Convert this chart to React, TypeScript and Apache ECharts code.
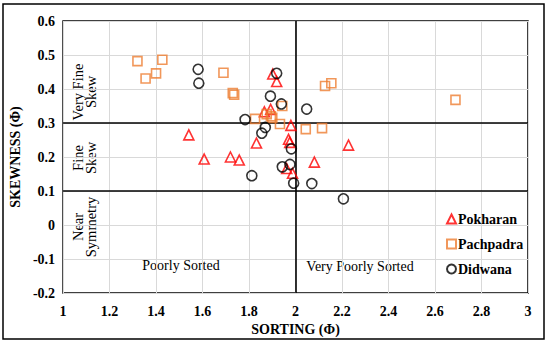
import React, { useEffect, useRef } from "react";
import * as echarts from "echarts";

const pokharan: [number, number][] = [
  [1.541, 0.265], [1.607, 0.194], [1.72, 0.2], [1.758, 0.191], [1.832, 0.241],
  [1.866, 0.333], [1.893, 0.34], [1.902, 0.444], [1.919, 0.422], [1.98, 0.293],
  [1.97, 0.252], [1.975, 0.243], [1.962, 0.166], [1.987, 0.152], [2.081, 0.185],
  [2.228, 0.235],
];
const pachpadra: [number, number][] = [
  [1.32, 0.482], [1.355, 0.431], [1.4, 0.446], [1.427, 0.486], [1.69, 0.448],
  [1.73, 0.388], [1.736, 0.383], [1.826, 0.312], [1.876, 0.326], [1.894, 0.32],
  [1.9, 0.315], [1.933, 0.297], [1.943, 0.35], [2.044, 0.282], [2.114, 0.285],
  [2.127, 0.409], [2.154, 0.417], [2.688, 0.368],
];
const didwana: [number, number][] = [
  [1.581, 0.458], [1.584, 0.417], [1.783, 0.31], [1.812, 0.145], [1.855, 0.27],
  [1.87, 0.287], [1.892, 0.379], [1.919, 0.446], [1.939, 0.356], [2.048, 0.341],
  [1.982, 0.224], [1.943, 0.171], [1.976, 0.178], [1.992, 0.123], [2.07, 0.122],
  [2.206, 0.077],
];
const xBoundaries = [2];
const yBoundaries = [0.3, 0.1];

const serif = "Liberation Serif";

export default function App() {
  const ref = useRef<HTMLDivElement>(null);
  useEffect(() => {
    if (!ref.current) return;
    const chart = echarts.init(ref.current, null, { renderer: "svg" });
    const markLines = [
      ...xBoundaries.map((v) => ({ xAxis: v })),
      ...yBoundaries.map((v) => ({ yAxis: v })),
    ];
    const vText = (x: number, y: number, text: string) => ({
      type: "text",
      x,
      y,
      rotation: Math.PI / 2,
      style: {
        text,
        fontFamily: serif,
        fontSize: 14.5,
        fill: "#000",
        align: "center",
        verticalAlign: "middle",
        lineHeight: 13,
      },
    });
    const boldText = { fontFamily: serif, fontWeight: "bold", fontSize: 14, color: "#000" };
    chart.setOption({
      animation: false,
      backgroundColor: "#fff",
      grid: {
        left: 60,
        right: 22,
        top: 21,
        bottom: 49,
        show: true,
        borderColor: "#000",
        borderWidth: 1.5,
        backgroundColor: "transparent",
      },
      xAxis: {
        type: "value",
        min: 1,
        max: 3,
        interval: 0.2,
        name: "SORTING (Φ)",
        nameLocation: "middle",
        nameGap: 27,
        nameTextStyle: boldText,
        axisLine: { show: false },
        axisTick: { show: false },
        axisLabel: {
          ...boldText,
          margin: 11,
          formatter: (v: number) => String(Math.round(v * 10) / 10),
        },
        splitLine: { show: true, lineStyle: { color: "#d9d9d9", width: 1 } },
      },
      yAxis: {
        type: "value",
        min: -0.2,
        max: 0.6,
        interval: 0.1,
        name: "SKEWNESS (Φ)",
        nameLocation: "middle",
        nameGap: 38,
        nameRotate: 90,
        nameTextStyle: boldText,
        axisLine: { show: false },
        axisTick: { show: false },
        axisLabel: {
          ...boldText,
          margin: 8,
          formatter: (v: number) => String(Math.round(v * 10) / 10),
        },
        splitLine: { show: true, lineStyle: { color: "#d9d9d9", width: 1 } },
      },
      legend: {
        orient: "vertical",
        left: 441,
        top: 207,
        itemGap: 11,
        itemWidth: 9,
        itemHeight: 9,
        textStyle: { ...boldText, padding: [0, 0, 0, -3] },
        data: ["Pokharan", "Pachpadra", "Didwana"],
      },
      series: [
        {
          name: "Pokharan",
          type: "scatter",
          symbol: "triangle",
          symbolSize: 10,
          itemStyle: { color: "rgba(255,255,255,0)", borderColor: "#ff0000", borderWidth: 1.6 },
          data: pokharan,
          z: 3,
          markLine: {
            silent: true,
            symbol: "none",
            label: { show: false },
            lineStyle: { color: "#000", width: 1.6, type: "solid" },
            data: markLines,
            z: 1,
          },
        },
        {
          name: "Pachpadra",
          type: "scatter",
          symbol: "rect",
          symbolSize: 9,
          itemStyle: { color: "rgba(255,255,255,0)", borderColor: "#ed7d31", borderWidth: 1.6 },
          data: pachpadra,
          z: 3,
        },
        {
          name: "Didwana",
          type: "scatter",
          symbol: "circle",
          symbolSize: 10,
          itemStyle: { color: "rgba(255,255,255,0)", borderColor: "#000", borderWidth: 1.6 },
          data: didwana,
          z: 3,
        },
      ],
      graphic: [
        {
          type: "rect",
          shape: { x: 3, y: 4, width: 541, height: 335 },
          style: { fill: "none", stroke: "#000", lineWidth: 1.5 },
          silent: true,
        },
        vText(84, 92, "Very Fine\nSkew"),
        vText(84, 158, "Fine\nSkew"),
        vText(84, 227, "Near\nSymmetry"),
        {
          type: "text",
          x: 181,
          y: 265,
          style: { text: "Poorly Sorted", fontFamily: serif, fontSize: 14, fill: "#000", align: "center", verticalAlign: "middle" },
        },
        {
          type: "text",
          x: 360,
          y: 266,
          style: { text: "Very Poorly Sorted", fontFamily: serif, fontSize: 14, fill: "#000", align: "center", verticalAlign: "middle" },
        },
      ],
    });
    return () => chart.dispose();
  }, []);
  return <div ref={ref} style={{ width: 550, height: 342, position: "absolute", left: 0, top: 0 }} />;
}
